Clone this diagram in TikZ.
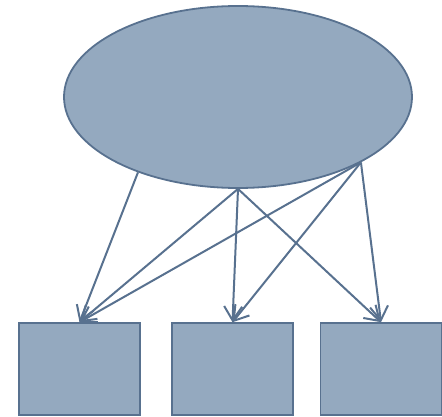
\documentclass[tikz,border=0pt]{standalone}
\usetikzlibrary{shapes.geometric,arrows.meta}
\definecolor{fillc}{HTML}{94A9BF}
\definecolor{linec}{HTML}{58718F}
\begin{document}
\begin{tikzpicture}[x=1pt,y=-1pt,
  shapebox/.style={draw=linec,fill=fillc,line width=1.6pt,minimum width=121pt,minimum height=92pt,inner sep=0pt},
  latent/.style={ellipse,draw=linec,fill=fillc,line width=1.8pt,minimum width=348pt,minimum height=182pt,inner sep=0pt},
  conn/.style={draw=linec,line width=2pt,-{Straight Barb[length=14pt,width=18pt,line width=2pt]}}]
\useasboundingbox (0,0) rectangle (442,417);
\node[latent] (E) at (238,97) {};
\node[shapebox] (B1) at (79.5,369) {};
\node[shapebox] (B2) at (232.5,369) {};
\node[shapebox] (B3) at (381,369) {};
\coordinate (Sa) at (E.217.4);
\coordinate (Sb) at (E.south);
\coordinate (Sc) at (E.-28);
\draw[conn] (Sa) -- (B1.north);
\draw[conn] (Sb) -- (B1.north);
\draw[conn] (Sc) -- (B1.north);
\draw[conn] (Sb) -- (B2.north);
\draw[conn] (Sc) -- (B2.north);
\draw[conn] (Sb) -- (B3.north);
\draw[conn] (Sc) -- (B3.north);
\end{tikzpicture}
\end{document}
